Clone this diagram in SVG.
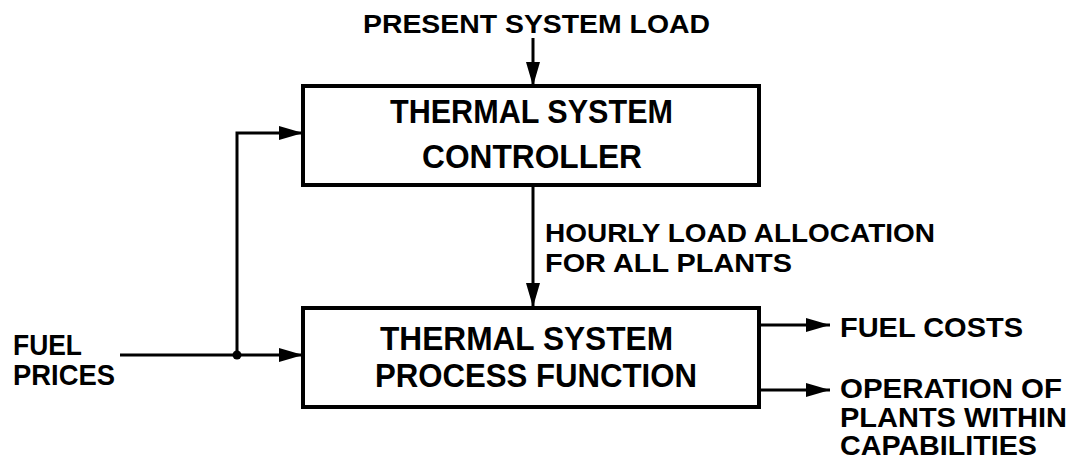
<svg xmlns="http://www.w3.org/2000/svg" width="1077" height="460" viewBox="0 0 1077 460">
<style>
text{font-family:"Liberation Sans",Arial,sans-serif;font-weight:bold;fill:#000}
.box{fill:#fff;stroke:#000;stroke-width:4}
.c{fill:none;stroke:#000;stroke-width:3}
.s25{font-size:26px}.s31{font-size:33px}.s27{font-size:28px}.s29{font-size:30px}
</style>
<defs>
<marker id="ah" markerUnits="userSpaceOnUse" markerWidth="26" markerHeight="16" refX="24" refY="7" orient="auto">
<path d="M0,0 L24,7 L0,14 Z" fill="#000"/>
</marker>
</defs>
<rect width="1077" height="460" fill="#fff"/>
<g id="connectors">
<line class="c" x1="533" y1="38" x2="533" y2="86" marker-end="url(#ah)"/>
<line class="c" x1="533" y1="185" x2="533" y2="307" marker-end="url(#ah)"/>
<line class="c" x1="120" y1="355" x2="303" y2="355" marker-end="url(#ah)"/>
<path class="c" d="M237,355 V133 H303" marker-end="url(#ah)"/>
<circle cx="237" cy="355" r="4.5" fill="#000"/>
<line class="c" x1="759" y1="325" x2="830" y2="325" marker-end="url(#ah)"/>
<line class="c" x1="759" y1="390" x2="830" y2="390" marker-end="url(#ah)"/>
</g>
<g id="controller">
<rect class="box" x="303" y="86" width="456" height="99"/>
<text class="s31" x="390" y="123" textLength="283" lengthAdjust="spacingAndGlyphs">THERMAL SYSTEM</text>
<text class="s31" x="422" y="168" textLength="220" lengthAdjust="spacingAndGlyphs">CONTROLLER</text>
</g>
<g id="process">
<rect class="box" x="303" y="308" width="456" height="99"/>
<text class="s31" x="380" y="350" textLength="293" lengthAdjust="spacingAndGlyphs">THERMAL SYSTEM</text>
<text class="s31" x="375" y="387" textLength="322" lengthAdjust="spacingAndGlyphs">PROCESS FUNCTION</text>
</g>
<g id="present-load">
<text class="s25" x="363" y="33" textLength="347" lengthAdjust="spacingAndGlyphs">PRESENT SYSTEM LOAD</text>
</g>
<g id="allocation-label">
<text class="s25" x="545" y="242" textLength="390" lengthAdjust="spacingAndGlyphs">HOURLY LOAD ALLOCATION</text>
<text class="s25" x="545" y="272" textLength="247" lengthAdjust="spacingAndGlyphs">FOR ALL PLANTS</text>
</g>
<g id="fuel-prices">
<text class="s29" x="13" y="355" textLength="69" lengthAdjust="spacingAndGlyphs">FUEL</text>
<text class="s29" x="13" y="385" textLength="102" lengthAdjust="spacingAndGlyphs">PRICES</text>
</g>
<g id="fuel-costs">
<text class="s27" x="840" y="337" textLength="183" lengthAdjust="spacingAndGlyphs">FUEL COSTS</text>
</g>
<g id="operation">
<text class="s27" x="840" y="398" textLength="222" lengthAdjust="spacingAndGlyphs">OPERATION OF</text>
<text class="s27" x="840" y="427" textLength="227" lengthAdjust="spacingAndGlyphs">PLANTS WITHIN</text>
<text class="s27" x="840" y="455" textLength="197" lengthAdjust="spacingAndGlyphs">CAPABILITIES</text>
</g>
</svg>
